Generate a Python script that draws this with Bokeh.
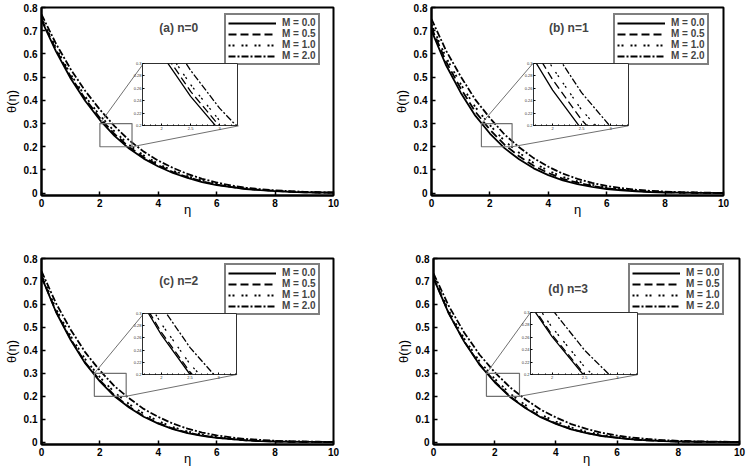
import numpy as np
from bokeh.plotting import figure
from bokeh.models import Range1d, FixedTicker, Legend, LegendItem, Label, GridBox
from bokeh.embed import file_html
from bokeh.resources import INLINE

# ---------------- data ----------------
ETA = [0.0, 0.5, 1.0, 1.5, 2.0, 2.5, 3.0, 3.5, 4.0, 4.5, 5.0,
       5.5, 6.0, 6.5, 7.0, 7.5, 8.0, 8.5, 9.0, 9.5, 10.0]

# (a) n = 0
A_M00 = [0.745, 0.610, 0.494, 0.397, 0.315, 0.247, 0.192, 0.149, 0.115, 0.087, 0.066, 0.048, 0.035, 0.026, 0.018, 0.013, 0.009, 0.006, 0.004, 0.003, 0.002]
A_M05 = [0.750, 0.617, 0.502, 0.406, 0.324, 0.255, 0.199, 0.155, 0.120, 0.091, 0.069, 0.051, 0.037, 0.027, 0.019, 0.014, 0.010, 0.007, 0.004, 0.003, 0.002]
A_M10 = [0.756, 0.625, 0.512, 0.416, 0.335, 0.266, 0.208, 0.163, 0.126, 0.097, 0.074, 0.054, 0.040, 0.029, 0.021, 0.015, 0.010, 0.007, 0.005, 0.003, 0.002]
A_M20 = [0.770, 0.643, 0.534, 0.440, 0.360, 0.289, 0.228, 0.179, 0.140, 0.109, 0.083, 0.062, 0.046, 0.033, 0.024, 0.017, 0.012, 0.009, 0.006, 0.004, 0.003]
# (b) n = 1
B_M00 = [0.700, 0.551, 0.433, 0.334, 0.257, 0.194, 0.146, 0.107, 0.078, 0.055, 0.039, 0.027, 0.018, 0.012, 0.008, 0.005, 0.003, 0.002, 0.001, 0.001, 0.000]
B_M05 = [0.713, 0.567, 0.451, 0.351, 0.274, 0.209, 0.159, 0.118, 0.087, 0.062, 0.045, 0.031, 0.021, 0.015, 0.010, 0.006, 0.004, 0.003, 0.002, 0.001, 0.000]
B_M10 = [0.727, 0.584, 0.470, 0.371, 0.293, 0.225, 0.174, 0.130, 0.097, 0.070, 0.051, 0.036, 0.025, 0.017, 0.012, 0.008, 0.005, 0.003, 0.002, 0.001, 0.001]
B_M20 = [0.750, 0.614, 0.503, 0.403, 0.324, 0.253, 0.198, 0.151, 0.114, 0.084, 0.062, 0.044, 0.031, 0.022, 0.015, 0.010, 0.007, 0.004, 0.003, 0.002, 0.001]
# (c) n = 2
C_M00 = [0.720, 0.566, 0.445, 0.343, 0.265, 0.200, 0.151, 0.111, 0.081, 0.057, 0.040, 0.028, 0.019, 0.013, 0.008, 0.005, 0.003, 0.002, 0.001, 0.001, 0.000]
C_M05 = [0.722, 0.569, 0.449, 0.347, 0.269, 0.204, 0.154, 0.114, 0.083, 0.059, 0.042, 0.029, 0.020, 0.014, 0.008, 0.005, 0.003, 0.002, 0.001, 0.001, 0.000]
C_M10 = [0.730, 0.580, 0.462, 0.361, 0.283, 0.217, 0.166, 0.124, 0.092, 0.066, 0.047, 0.033, 0.023, 0.016, 0.010, 0.007, 0.004, 0.003, 0.002, 0.001, 0.000]
C_M20 = [0.745, 0.604, 0.490, 0.391, 0.312, 0.244, 0.191, 0.145, 0.110, 0.081, 0.059, 0.042, 0.030, 0.021, 0.014, 0.010, 0.006, 0.004, 0.003, 0.002, 0.001]
# (d) n = 3
D_M00 = [0.715, 0.560, 0.438, 0.338, 0.261, 0.197, 0.149, 0.109, 0.080, 0.056, 0.040, 0.027, 0.019, 0.012, 0.008, 0.005, 0.003, 0.002, 0.001, 0.001, 0.000]
D_M05 = [0.716, 0.562, 0.440, 0.341, 0.264, 0.200, 0.151, 0.111, 0.082, 0.057, 0.041, 0.028, 0.020, 0.012, 0.008, 0.005, 0.003, 0.002, 0.001, 0.001, 0.000]
D_M10 = [0.722, 0.572, 0.452, 0.353, 0.276, 0.212, 0.162, 0.121, 0.090, 0.064, 0.046, 0.032, 0.023, 0.015, 0.010, 0.006, 0.004, 0.003, 0.002, 0.001, 0.000]
D_M20 = [0.735, 0.593, 0.478, 0.382, 0.305, 0.239, 0.187, 0.142, 0.108, 0.079, 0.058, 0.041, 0.029, 0.020, 0.014, 0.009, 0.006, 0.004, 0.003, 0.002, 0.001]

SERIES = [[A_M00, A_M05, A_M10, A_M20],
          [B_M00, B_M05, B_M10, B_M20],
          [C_M00, C_M05, C_M10, C_M20],
          [D_M00, D_M05, D_M10, D_M20]]
M_LABELS = ["M = 0.0", "M = 0.5", "M = 1.0", "M = 2.0"]
PANEL_TITLES = ["(a) n=0", "(b) n=1", "(c) n=2", "(d) n=3"]
X_TICKS = [0, 2, 4, 6, 8, 10]
Y_TICKS = [0, 0.1, 0.2, 0.3, 0.4, 0.5, 0.6, 0.7, 0.8]
Y_TICK_LABELS = ["0", "0.1", "0.2", "0.3", "0.4", "0.5", "0.6", "0.7", "0.8"]
X_LABEL = "η"
Y_LABEL = "θ(η)"

# inset (zoom) definitions
ZOOM_X = [(2.0, 3.1), (1.71, 2.76), (1.81, 2.90), (1.73, 2.81)]
ZOOM_Y = (0.2, 0.3)
INSET_X_RANGE = (1.67, 3.31)
INSET_X_TICKS = [2, 2.5, 3]
INSET_X_MINOR = [1.7, 1.8, 1.9, 2.1, 2.2, 2.3, 2.4, 2.6, 2.7, 2.8, 2.9, 3.1, 3.2, 3.3]
INSET_Y_TICKS = [0.2, 0.22, 0.24, 0.26, 0.28, 0.3]
INSET_Y_LABELS = ["0.2", "0.22", "0.24", "0.26", "0.28", "0.3"]
# where each inset sits inside its main panel (main data coordinates)
INSET_AT = [(3.5, 6.75, 0.29, 0.56), (3.48, 6.74, 0.29, 0.56),
            (3.5, 6.70, 0.295, 0.56), (3.16, 6.67, 0.294, 0.563)]
TITLE_AT = [(4.7, 0.713), (4.7, 0.713), (4.7, 0.703), (4.4, 0.667)]

# ---------------- style / layout ----------------
X_RANGE = (0, 10)
Y_RANGE = (-0.01, 0.8)
DASHES = ["solid", "8 4", "2 2 2 7", "7 2 2 2"]
FONT = "Liberation Sans"
# L, FW, R, T, FH, B
GEOM = [(39, 294, 41, 7, 188, 37),
        (57, 292, 24, 7, 188, 37),
        (39, 294, 41, 26, 186, 24),
        (59, 306, 8, 26, 186, 24)]
LEG_RIGHT_GAP = [16, 15, 16, 16]
LEG_TOP_GAP = [6, 6, 5, 5]
LEG_W, LEG_H = 95, 52
IL, IR, IT, IB = 12, 2, 3, 8


def make_panel(k):
    L, FW, R, T, FH, B = GEOM[k]
    W, H = L + FW + R, T + FH + B
    p = figure(frame_width=FW, frame_height=FH,
               min_border_left=L, min_border_right=R,
               min_border_top=T, min_border_bottom=B,
               x_range=Range1d(*X_RANGE), y_range=Range1d(*Y_RANGE),
               output_backend="svg", toolbar_location=None,
               background_fill_color="white", border_fill_color="white")
    p.xgrid.grid_line_color = None
    p.ygrid.grid_line_color = None
    p.outline_line_color = "black"
    p.outline_line_width = 2
    p.xaxis.ticker = FixedTicker(ticks=X_TICKS)
    p.yaxis.ticker = FixedTicker(ticks=Y_TICKS)
    p.yaxis.major_label_overrides = {t: s for t, s in zip(Y_TICKS, Y_TICK_LABELS)}
    for ax in (p.xaxis[0], p.yaxis[0]):
        ax.axis_line_width = 2
        ax.axis_line_color = "black"
        ax.major_tick_in = 4
        ax.major_tick_out = 0
        ax.major_tick_line_width = 1.5
        ax.minor_tick_line_color = None
        ax.major_label_text_font = FONT
        ax.major_label_text_font_style = "bold"
        ax.major_label_text_font_size = "10px"
        ax.major_label_text_color = "black"
        ax.axis_label_text_font = FONT
        ax.axis_label_text_font_style = "normal"
        ax.axis_label_text_font_size = "13px"
        ax.axis_label_text_color = "black"
    p.xaxis.major_label_standoff = 3
    p.yaxis.major_label_standoff = 4
    p.xaxis.axis_label = X_LABEL
    p.xaxis.axis_label_standoff = -8
    p.yaxis.axis_label = Y_LABEL
    p.yaxis.axis_label_standoff = 2

    rends = []
    for ser, dash in zip(SERIES[k], DASHES):
        r = p.line(ETA, ser, line_color="black", line_width=1.8, line_dash=dash)
        rends.append(r)

    # zoom rectangle and connector lines
    zx0, zx1 = ZOOM_X[k]
    p.quad(left=[zx0], right=[zx1], bottom=[ZOOM_Y[0]], top=[ZOOM_Y[1]],
           fill_color=None, line_color="#707070", line_width=1.2)

    ix0, ix1, iy0, iy1 = INSET_AT[k]
    # pixel placement of inset frame inside this panel
    fl = L + int(round((ix0 - X_RANGE[0]) / (X_RANGE[1] - X_RANGE[0]) * FW))
    fr = L + int(round((ix1 - X_RANGE[0]) / (X_RANGE[1] - X_RANGE[0]) * FW))
    ft = T + int(round((Y_RANGE[1] - iy1) / (Y_RANGE[1] - Y_RANGE[0]) * FH))
    fb = T + int(round((Y_RANGE[1] - iy0) / (Y_RANGE[1] - Y_RANGE[0]) * FH))
    iw, ih = fr - fl, fb - ft

    p.segment(x0=[zx0, zx1], y0=[ZOOM_Y[1], ZOOM_Y[0]],
              x1=[ix0, ix1], y1=[iy1, iy0],
              line_color="#707070", line_width=1)

    tx, ty = TITLE_AT[k]
    p.add_layout(Label(x=tx, y=ty, text=PANEL_TITLES[k], text_font=FONT,
                       text_font_style="bold", text_font_size="12px",
                       text_align="center", text_baseline="middle"))

    legend = Legend(items=[LegendItem(label=lab, renderers=[r])
                           for lab, r in zip(M_LABELS, rends)],
                    location=(FW - LEG_RIGHT_GAP[k] - LEG_W, FH - LEG_TOP_GAP[k] - LEG_H),
                    glyph_width=48, glyph_height=10, label_height=10,
                    spacing=0, padding=2, margin=0, label_standoff=6,
                    border_line_color="black", border_line_width=2,
                    label_text_font=FONT, label_text_font_style="bold",
                    label_text_font_size="10px", background_fill_alpha=1)
    p.add_layout(legend)

    # inset figure
    ins = figure(frame_width=iw, frame_height=ih,
                 min_border_left=IL, min_border_right=IR,
                 min_border_top=IT, min_border_bottom=IB,
                 x_range=Range1d(*INSET_X_RANGE), y_range=Range1d(*ZOOM_Y),
                 output_backend="svg", toolbar_location=None,
                 border_fill_color=None, background_fill_color="white")
    ins.outline_line_color = "#303030"
    ins.outline_line_width = 1
    ins.xgrid.grid_line_color = None
    ins.ygrid.grid_line_color = None
    ins.xaxis.ticker = FixedTicker(ticks=INSET_X_TICKS, minor_ticks=INSET_X_MINOR)
    ins.yaxis.ticker = FixedTicker(ticks=INSET_Y_TICKS)
    ins.yaxis.major_label_overrides = {t: s for t, s in zip(INSET_Y_TICKS, INSET_Y_LABELS)}
    for ax in (ins.xaxis[0], ins.yaxis[0]):
        ax.axis_line_color = "#303030"
        ax.axis_line_width = 1
        ax.major_tick_in = 2
        ax.major_tick_out = 0
        ax.minor_tick_in = 1
        ax.minor_tick_out = 0
        ax.major_label_text_font = FONT
        ax.major_label_text_font_size = "4px"
        ax.major_label_text_color = "#333333"
        ax.major_label_standoff = 1
    for ser, dash in zip(SERIES[k], DASHES):
        ins.line(ETA, ser, line_color="black", line_width=1.3, line_dash=dash)

    c0 = fl - IL
    c1 = IL + iw + IR
    r0 = ft - IT
    r1 = IT + ih + IB
    grid = GridBox(children=[(p, 0, 0, 3, 3), (ins, 1, 1, 1, 1)],
                   cols=[f"{c0}px", f"{c1}px", f"{W - c0 - c1}px"],
                   rows=[f"{r0}px", f"{r1}px", f"{H - r0 - r1}px"])
    return grid, W, H


panels = [make_panel(k) for k in range(4)]
top = GridBox(children=[(panels[0][0], 0, 0), (panels[1][0], 0, 1),
                        (panels[2][0], 1, 0), (panels[3][0], 1, 1)],
              cols=[f"{panels[0][1]}px", f"{panels[1][1]}px"],
              rows=[f"{panels[0][2]}px", f"{panels[2][2]}px"])

open("out.html", "w").write(file_html(top, INLINE))
